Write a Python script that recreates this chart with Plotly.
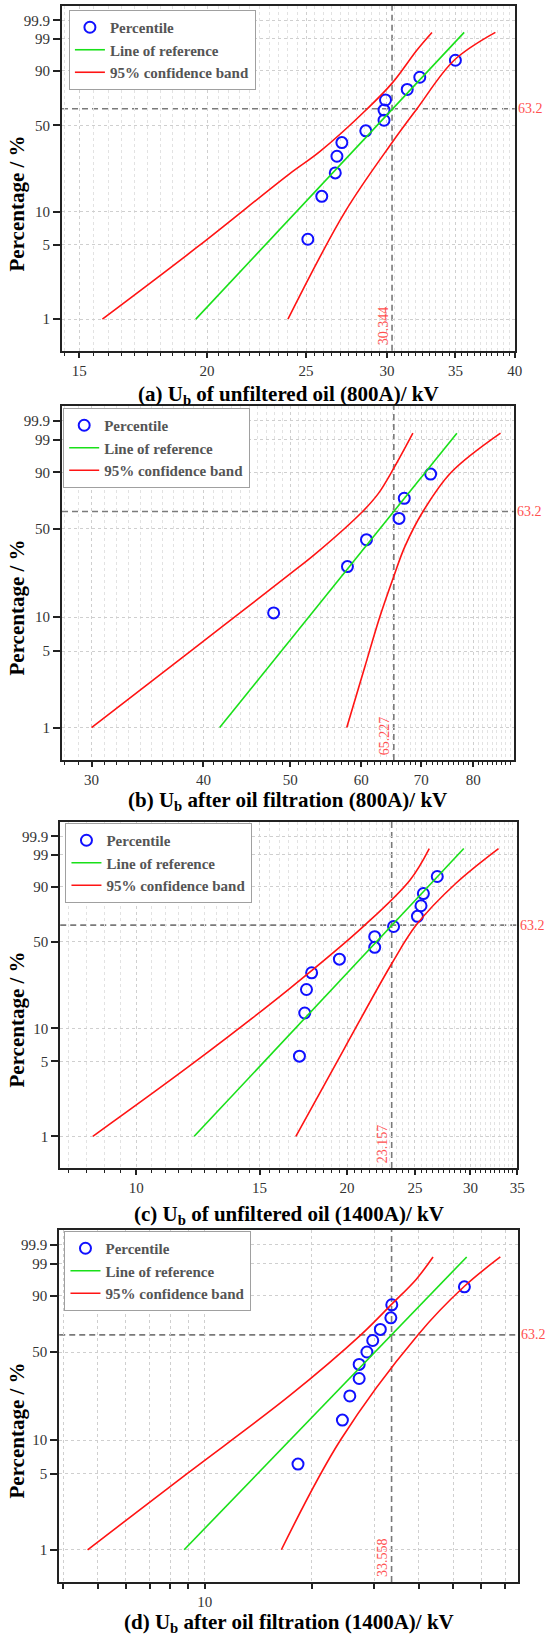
import numpy as np
import plotly.graph_objects as go

W, H = 553, 1636

# ---------------- data ----------------
ytick_pct = [1, 5, 10, 50, 90, 99, 99.9]
ytick_text = ["1", "5", "10", "50", "90", "99", "99.9"]
char_pct = 63.2

# (a) unfiltered oil 800A
a_pts_kv = [25.1, 25.9, 26.7, 26.8, 27.1, 28.6, 29.8, 29.8, 29.9, 31.4, 32.3, 35.0]
a_pts_pct = [5.6, 13.7, 21.8, 29.8, 37.9, 46.0, 54.0, 62.1, 70.2, 78.2, 86.3, 94.4]
a_ref_kv = [19.5, 35.7]
a_ref_pct = [1, 99.5]
a_lo_kv = [15.8, 19.6, 24.05, 25.8, 28.7, 30.35, 32.1, 33.2]
a_lo_pct = [1, 4.8, 21.2, 32.5, 63.2, 82.6, 97.3, 99.5]
a_hi_kv = [24.0, 27.3, 30.35, 32.1, 34.9, 38.3]
a_hi_pct = [1, 10, 38.0, 63.2, 94.4, 99.5]
a_eta = 30.344

# (b) after oil filtration 800A
b_pts_kv = [47.9, 57.9, 60.8, 66.1, 67.0, 71.7]
b_pts_pct = [10.9, 26.6, 42.2, 57.8, 73.4, 89.1]
b_ref_kv = [41.7, 76.7]
b_ref_pct = [1, 99.5]
b_lo_kv = [30.0, 38.7, 49.8, 53.4, 60.2, 62.7, 65.2, 68.5]
b_lo_pct = [1, 5, 22.8, 33.6, 63.2, 77, 91.8, 99.5]
b_hi_kv = [57.8, 60.55, 62.9, 65.2, 67.1, 70.3, 75.6, 85.8]
b_hi_pct = [1, 3.6, 10, 22.1, 37.7, 63.2, 90, 99.5]
b_eta = 65.227

# (c) unfiltered oil 1400A
c_pts_kv = [17.1, 17.4, 17.5, 17.8, 19.5, 21.9, 21.9, 23.3, 25.2, 25.5, 25.7, 26.9]
c_pts_pct = [5.6, 13.7, 21.8, 29.8, 37.9, 46.0, 54.0, 62.1, 70.2, 78.2, 86.3, 94.4]
c_ref_kv = [12.1, 29.35]
c_ref_pct = [1, 99.5]
c_lo_kv = [8.67, 12.1, 16.54, 21.2, 24.6, 26.2]
c_lo_pct = [1, 4.9, 22.1, 63.2, 93.1, 99.5]
c_hi_kv = [16.9, 19.8, 23.2, 25.1, 28.6, 32.9]
c_hi_pct = [1, 6.5, 35.6, 63.2, 91.7, 99.5]
c_eta = 23.157

# (d) after oil filtration 1400A
d_pts_kv = [18.3, 24.4, 25.6, 27.2, 27.2, 28.6, 29.7, 31.2, 33.4, 33.6, 53.8]
d_pts_pct = [6.1, 14.9, 23.7, 32.5, 41.2, 50.0, 58.8, 67.5, 76.3, 85.1, 93.9]
d_ref_kv = [8.75, 54.6]
d_ref_pct = [1, 99.5]
d_lo_kv = [4.68, 8.92, 17.33, 27.5, 33.6, 39.4, 43.9]
d_lo_pct = [1, 5, 23.8, 63.2, 85.5, 96.3, 99.5]
d_hi_kv = [16.43, 24.1, 39.8, 53.8, 67.9]
d_hi_pct = [1, 10, 63.2, 94.1, 99.5]
d_eta = 33.558

a_xticks = [15, 20, 25, 30, 35, 40]
b_xticks = [30, 40, 50, 60, 70, 80]
c_xticks = [10, 15, 20, 25, 30, 35]
d_xticks = [4, 5, 6, 7, 8, 9, 10, 20, 30, 40, 50, 60, 70]
d_xtick_text = ["", "", "", "", "", "", "10", "", "", "", "", "", ""]

titles = [
    "(a) U<sub>b</sub> of unfiltered oil (800A)/ kV",
    "(b) U<sub>b</sub> after oil filtration (800A)/ kV",
    "(c) U<sub>b</sub> of unfiltered oil (1400A)/ kV",
    "(d) U<sub>b</sub> after oil filtration (1400A)/ kV",
]


def wb(p):
    """Weibull probability-paper transform of a percentage."""
    return np.log(-np.log(1 - np.asarray(p, dtype=float) / 100.0))


# ---------------- layout geometry (pixels) ----------------
SERIF = "Liberation Serif"
panels = [
    dict(pts=(a_pts_kv, a_pts_pct), ref=(a_ref_kv, a_ref_pct), lo=(a_lo_kv, a_lo_pct),
         hi=(a_hi_kv, a_hi_pct), eta=a_eta, eta_txt="30.344",
         xt=a_xticks, xtt=[str(v) for v in a_xticks], minor=list(np.arange(14.5, 40.01, 0.5)),
         xr=[1.1591, 1.6021], box=(62.8, 521.3, 6, 350.7), xt_y=395, yt_y=203, leg=(69.8, 10)),
    dict(pts=(b_pts_kv, b_pts_pct), ref=(b_ref_kv, b_ref_pct), lo=(b_lo_kv, b_lo_pct),
         hi=(b_hi_kv, b_hi_pct), eta=b_eta, eta_txt="65.227",
         xt=b_xticks, xtt=[str(v) for v in b_xticks], minor=list(np.arange(28, 89, 1.0)),
         xr=[1.4442, 1.9482], box=(62.8, 520.3, 406, 760), xt_y=801, yt_y=607, leg=(64, 408)),
    dict(pts=(c_pts_kv, c_pts_pct), ref=(c_ref_kv, c_ref_pct), lo=(c_lo_kv, c_lo_pct),
         hi=(c_hi_kv, c_hi_pct), eta=c_eta, eta_txt="23.157",
         xt=c_xticks, xtt=[str(v) for v in c_xticks], minor=list(np.arange(8.0, 35.01, 0.5)),
         xr=[0.8915, 1.5441], box=(61, 524, 822, 1168), xt_y=1215, yt_y=1019, leg=(66.3, 823)),
    dict(pts=(d_pts_kv, d_pts_pct), ref=(d_ref_kv, d_ref_pct), lo=(d_lo_kv, d_lo_pct),
         hi=(d_hi_kv, d_hi_pct), eta=d_eta, eta_txt="33.558",
         xt=d_xticks, xtt=d_xtick_text, minor=None,
         xr=[0.5905, 1.8812], box=(60, 524.5, 1230, 1582), xt_y=1623, yt_y=1430, leg=(65.3, 1231)),
]

YR = [-5.29, 2.245]
fig = go.Figure()
layout = dict(width=W, height=H, margin=dict(l=0, r=0, t=0, b=0),
              paper_bgcolor="white", plot_bgcolor="white", showlegend=True)
shapes, annotations = [], []
GRID = "#cfcfcf"

for i, pn in enumerate(panels):
    k = "" if i == 0 else str(i + 1)
    xa, ya = "x" + k, "y" + k
    leg = "legend" + k
    x0, x1, y0, y1 = pn["box"]
    fig.add_trace(go.Scatter(x=pn["pts"][0], y=wb(pn["pts"][1]), mode="markers",
                             name="<b>Percentile</b>", xaxis=xa, yaxis=ya, legend=leg,
                             marker=dict(symbol="circle-open", size=11, color="#1010ff",
                                         line=dict(width=2, color="#1010ff"))))
    fig.add_trace(go.Scatter(x=pn["ref"][0], y=wb(pn["ref"][1]), mode="lines",
                             name="<b>Line of reference</b>", xaxis=xa, yaxis=ya, legend=leg,
                             line=dict(color="#19e019", width=1.6)))
    fig.add_trace(go.Scatter(x=pn["lo"][0], y=wb(pn["lo"][1]), mode="lines",
                             name="<b>95% confidence band</b>", xaxis=xa, yaxis=ya, legend=leg,
                             line=dict(color="#ff1414", width=1.6, shape="spline", smoothing=1.0)))
    fig.add_trace(go.Scatter(x=pn["hi"][0], y=wb(pn["hi"][1]), mode="lines",
                             name="<b>95% confidence band</b>", xaxis=xa, yaxis=ya, legend=leg,
                             showlegend=False,
                             line=dict(color="#ff1414", width=1.6, shape="spline", smoothing=1.0)))
    xaxis = dict(type="log", range=pn["xr"], domain=[x0 / W, x1 / W], anchor=ya,
                 tickmode="array", tickvals=pn["xt"], ticktext=pn["xtt"],
                 ticks="outside", ticklen=5, tickwidth=1.5, tickcolor="#222",
                 showline=True, mirror=True, linecolor="#222", linewidth=2,
                 showgrid=True, gridcolor=GRID, griddash="dot", gridwidth=1,
                 zeroline=False, tickfont=dict(family=SERIF, size=15, color="#333"))
    if pn["minor"] is not None:
        xaxis["minor"] = dict(tickmode="array", tickvals=pn["minor"], ticks="outside", ticklen=3,
                              tickwidth=1, tickcolor="#222", showgrid=True,
                              gridcolor="#e2e2e2", griddash="dot", gridwidth=1)
    yaxis = dict(range=YR, domain=[1 - y1 / H, 1 - y0 / H], anchor=xa,
                 tickmode="array", tickvals=list(wb(ytick_pct)), ticktext=ytick_text,
                 ticks="outside", ticklen=7, tickwidth=1.5, tickcolor="#222",
                 showline=True, mirror=True, linecolor="#222", linewidth=2,
                 showgrid=True, gridcolor=GRID, griddash="dot", gridwidth=1,
                 zeroline=False, tickfont=dict(family=SERIF, size=15, color="#333"))
    layout["xaxis" + k] = xaxis
    layout["yaxis" + k] = yaxis
    layout[leg] = dict(x=pn["leg"][0] / W, y=1 - pn["leg"][1] / H, xanchor="left", yanchor="top",
                       bgcolor="white", bordercolor="#a0a0a0", borderwidth=1,
                       font=dict(family=SERIF, size=15, color="#555"), tracegroupgap=0,
                       itemwidth=30)
    # reference dashed lines at the characteristic value
    shapes.append(dict(type="line", xref=xa + " domain", yref=ya, x0=0, x1=1,
                       y0=float(wb(char_pct)), y1=float(wb(char_pct)), layer="below",
                       line=dict(color="#7a7a7a", width=1.6, dash="6px,4px")))
    shapes.append(dict(type="line", xref=xa, yref=ya + " domain",
                       x0=pn["eta"], x1=pn["eta"], y0=0, y1=1,
                       layer="below", line=dict(color="#7a7a7a", width=1.6, dash="6px,4px")))
    # texts
    annotations.append(dict(text=titles[i], xref="paper", yref="paper",
                            x=((x0 + x1) / 2) / W, y=1 - pn["xt_y"] / H, xanchor="center",
                            yanchor="middle", showarrow=False,
                            font=dict(family=SERIF, size=21, color="black", weight="bold")))
    annotations.append(dict(text="<b>Percentage / %</b>", xref="paper", yref="paper",
                            x=17.7 / W, y=1 - pn["yt_y"] / H, xanchor="center", yanchor="middle",
                            textangle=-90, showarrow=False,
                            font=dict(family=SERIF, size=21, color="black")))
    annotations.append(dict(text="63.2", xref="paper", yref=ya, x=(x1 + 1) / W,
                            y=float(wb(char_pct)), xanchor="left", yanchor="middle",
                            showarrow=False, font=dict(family=SERIF, size=14, color="#ff5050")))
    annotations.append(dict(text=pn["eta_txt"], xref=xa, yref=ya + " domain",
                            x=float(np.log10(pn["eta"])), y=0, xshift=-9, yshift=3,
                            xanchor="center", yanchor="bottom", textangle=-90, showarrow=False,
                            font=dict(family=SERIF, size=14, color="#ff5050")))

layout["shapes"] = shapes
layout["annotations"] = annotations
fig.update_layout(**layout)
fig.write_html("out.html")
